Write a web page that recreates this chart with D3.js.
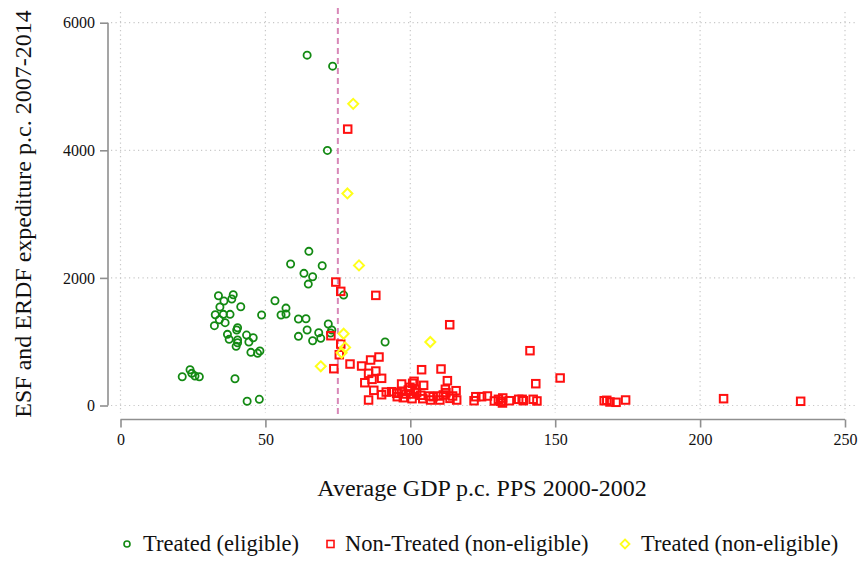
<!DOCTYPE html>
<html>
<head>
<meta charset="utf-8">
<script src="https://cdn.jsdelivr.net/npm/d3@7"></script>
<style>
  html, body { margin: 0; padding: 0; background: #fff; }
  svg { display: block; }
  text { font-family: "Liberation Serif", "DejaVu Serif", serif; fill: #111; }
</style>
</head>
<body>
<svg id="chart" width="859" height="561"></svg>
<script>
// Treated regions below the eligibility threshold: [GDP p.c. PPS, expenditure p.c.]
const treatedEligible = [
  [64.4,5491],[73.2,5319],[71.4,3998],[65.0,2416],[58.7,2217],[69.6,2190],[63.3,2071],
  [66.3,2018],[64.8,1903],[77.0,1731],[57.1,1527],[55.4,1418],[57.1,1433],[61.4,1355],
  [64.0,1360],[71.7,1277],[72.9,1183],[72.5,1136],[64.4,1183],[68.4,1141],[61.4,1084],
  [66.3,1015],[69.1,1053],[91.3,995],[33.8,1720],[38.9,1736],[38.4,1669],[35.7,1637],
  [41.5,1548],[34.3,1543],[32.7,1423],[35.5,1429],[37.8,1429],[48.7,1418],[34.1,1344],
  [36.1,1298],[32.4,1251],[53.3,1642],[40.4,1219],[40.1,1183],[36.9,1115],[43.5,1104],
  [45.8,1062],[37.5,1037],[40.4,1026],[44.3,995],[40.4,984],[39.9,927],[45.0,833],
  [47.3,818],[48.1,854],[24.0,561],[24.6,504],[25.7,462],[27.2,451],[21.3,451],
  [39.5,420],[43.7,66],[47.9,97]
];

// Regions above the threshold that received no treatment
const nonTreated = [
  [78.4,4332],[74.3,1935],[76.0,1789],[88.1,1726],[72.6,1094],[76.0,963],[75.5,796],
  [73.6,577],[79.2,650],[83.2,619],[86.3,713],[89.2,760],[85.6,504],[88.1,540],
  [90.1,426],[84.3,357],[86.8,410],[87.4,238],[90.1,169],[91.7,211],[85.6,86],
  [113.6,1266],[103.9,561],[110.6,572],[141.3,859],[151.7,431],[143.3,342],[112.8,389],
  [115.8,232],[97.0,337],[101.3,379],[104.6,316],[112.1,254],[93.6,216],[95.3,191],
  [95.5,138],[97.0,222],[97.6,122],[98.5,180],[99.3,243],[99.9,285],[100.1,180],
  [100.6,107],[100.8,348],[101.6,254],[102.2,201],[103.6,160],[104.3,107],[106.6,149],
  [107.0,86],[107.9,138],[109.7,149],[110.2,86],[111.4,165],[112.3,201],[113.7,112],
  [114.6,149],[116.0,86],[122.0,75],[122.6,138],[124.6,138],[126.6,149],[129.0,71],
  [130.4,97],[131.2,66],[131.9,118],[131.8,39],[134.2,75],[137.4,97],[138.6,97],
  [139.0,75],[142.4,97],[143.7,71],[166.9,75],[167.8,81],[168.9,55],[171.0,50],
  [174.3,86],[208.1,107],[234.7,66],[95.4,200]
];

// Treated regions above the threshold
const treatedNonEligible = [
  [80.3,4728],[78.3,3324],[82.3,2196],[77.0,1125],[77.5,911],[76.3,827],[69.1,614],[106.9,995]
];

const xTicks = [0, 50, 100, 150, 200, 250];
const yTicks = [0, 2000, 4000, 6000];
const threshold = 75;
const legendLabels = ["Treated (eligible)", "Non-Treated (non-eligible)", "Treated (non-eligible)"];

const serif = '"Liberation Serif", "DejaVu Serif", serif';
const svg = d3.select("#chart");

const x = d3.scaleLinear().domain([0, 250]).range([120.5, 845]);
const y = d3.scaleLinear().domain([0, 6000]).range([405.5, 22.7]);

const gridColor = "#c8c8c8";
const axisColor = "#8f8f8f";

// dotted gridlines
const grid = svg.append("g");
grid.selectAll("line.h").data(yTicks).join("line")
  .attr("x1", 111).attr("x2", 858)
  .attr("y1", d => y(d)).attr("y2", d => y(d))
  .attr("stroke", gridColor).attr("stroke-width", 1.2)
  .attr("stroke-dasharray", "1.2,3.3");
grid.selectAll("line.v").data(xTicks).join("line")
  .attr("x1", d => x(d)).attr("x2", d => x(d))
  .attr("y1", 12).attr("y2", 413)
  .attr("stroke", gridColor).attr("stroke-width", 1.2)
  .attr("stroke-dasharray", "1.2,3.3");

// y axis
const yAxis = svg.append("g").attr("transform", "translate(108,0)")
  .call(d3.axisLeft(y).tickValues(yTicks).tickSize(8).tickPadding(5).tickFormat(d3.format("d")))
  .attr("font-family", serif).attr("font-size", 16);
yAxis.select(".domain").attr("stroke", axisColor).attr("stroke-width", 1.6)
  .attr("d", `M0,${y(6000)}V${y(0)}`);
yAxis.selectAll(".tick line").attr("stroke", axisColor).attr("stroke-width", 1.6);
yAxis.selectAll(".tick text").attr("fill", "#222");

// x axis
const xAxis = svg.append("g").attr("transform", "translate(0,419.5)")
  .call(d3.axisBottom(x).tickValues(xTicks).tickSize(8).tickPadding(6))
  .attr("font-family", serif).attr("font-size", 16);
xAxis.select(".domain").attr("stroke", axisColor).attr("stroke-width", 1.6)
  .attr("d", `M${x(0)},0H${x(250)}`);
xAxis.selectAll(".tick line").attr("stroke", axisColor).attr("stroke-width", 1.6);
xAxis.selectAll(".tick text").attr("fill", "#222");

// eligibility threshold
svg.append("line")
  .attr("x1", x(threshold)).attr("x2", x(threshold))
  .attr("y1", 8).attr("y2", 418)
  .attr("stroke", "#d888b8").attr("stroke-width", 2)
  .attr("stroke-dasharray", "6,4");

const green = "#138a13", red = "#ff1010", yellow = "#ffff1a";

// marker painters
function circles(g, data, r) {
  g.selectAll("circle").data(data).join("circle")
    .attr("cx", d => x(d[0])).attr("cy", d => y(d[1])).attr("r", r)
    .attr("fill", "none").attr("stroke", green).attr("stroke-width", 1.8);
}
function squares(g, data, s) {
  g.selectAll("rect").data(data).join("rect")
    .attr("x", d => x(d[0]) - s / 2).attr("y", d => y(d[1]) - s / 2)
    .attr("width", s).attr("height", s)
    .attr("fill", "none").attr("stroke", red).attr("stroke-width", 2);
}
function diamonds(g, data, s) {
  g.selectAll("path").data(data).join("path")
    .attr("d", d => {
      const cx = x(d[0]), cy = y(d[1]);
      return `M${cx},${cy - s}L${cx + s},${cy}L${cx},${cy + s}L${cx - s},${cy}Z`;
    })
    .attr("fill", "none").attr("stroke", yellow).attr("stroke-width", 2);
}

circles(svg.append("g"), treatedEligible, 3.6);
squares(svg.append("g"), nonTreated, 7.5);
diamonds(svg.append("g"), treatedNonEligible, 5);

// axis titles
svg.append("text")
  .attr("x", 482).attr("y", 496)
  .attr("text-anchor", "middle")
  .style("font-size", "24px")
  .text("Average GDP p.c. PPS 2000-2002");

svg.append("text")
  .attr("transform", "translate(31,214) rotate(-90)")
  .attr("text-anchor", "middle")
  .style("font-size", "24px")
  .text("ESF and ERDF expediture p.c. 2007-2014");

// legend
const legY = 544;
const leg = svg.append("g");
leg.append("circle").attr("cx", 127).attr("cy", legY).attr("r", 3)
  .attr("fill", "none").attr("stroke", green).attr("stroke-width", 1.6);
leg.append("rect").attr("x", 327).attr("y", legY - 3.5).attr("width", 7).attr("height", 7)
  .attr("fill", "none").attr("stroke", red).attr("stroke-width", 1.6);
leg.append("path")
  .attr("d", `M625,${legY - 4.5}L629.5,${legY}L625,${legY + 4.5}L620.5,${legY}Z`)
  .attr("fill", "none").attr("stroke", yellow).attr("stroke-width", 1.8);
const legX = [143, 345, 641];
leg.selectAll("text").data(legendLabels).join("text")
  .attr("x", (d, i) => legX[i]).attr("y", legY + 7)
  .style("font-size", "22.5px")
  .text(d => d);
</script>
</body>
</html>
